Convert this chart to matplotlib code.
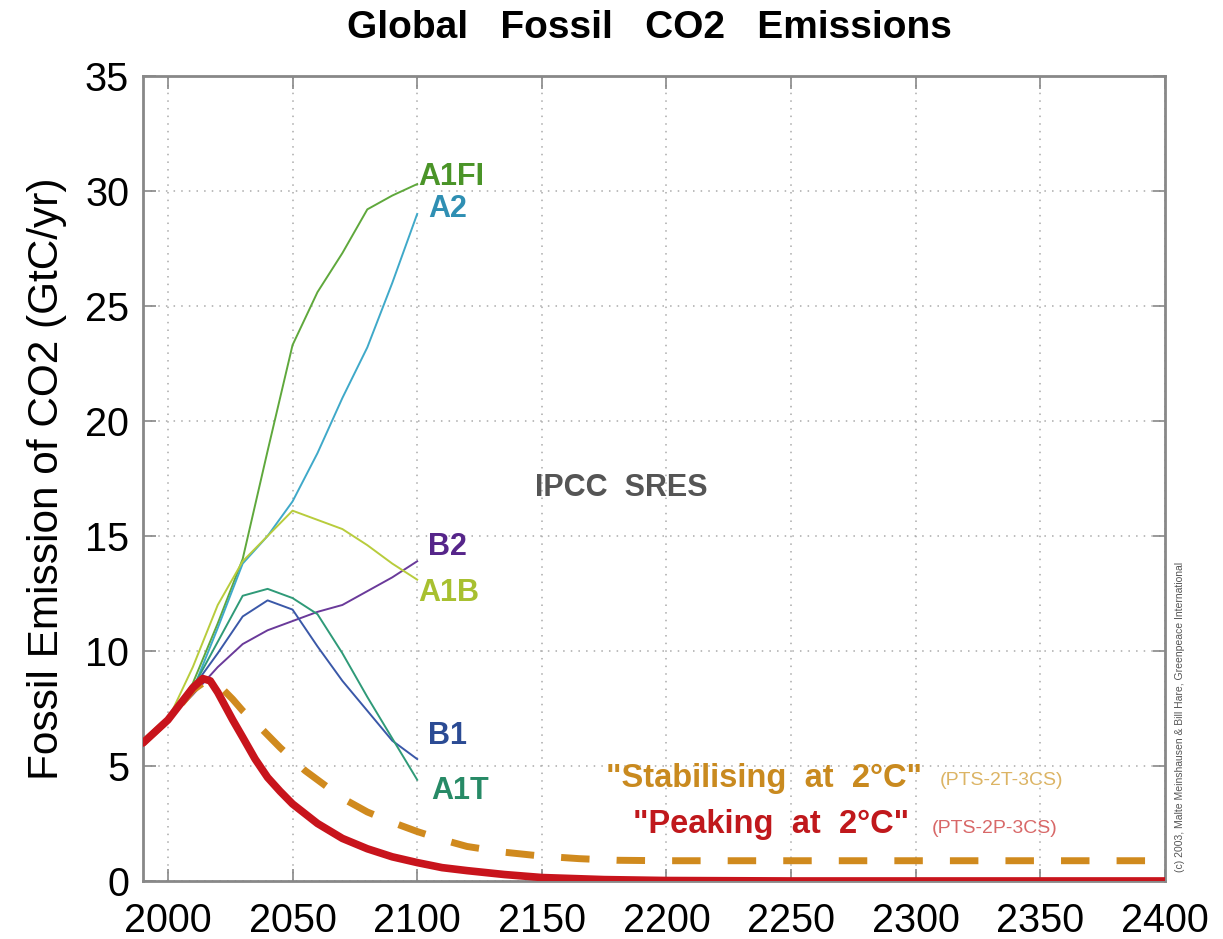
import matplotlib
matplotlib.use("Agg")
import matplotlib.pyplot as plt
import numpy as np

plt.rcParams["font.family"] = ["Liberation Sans", "DejaVu Sans"]

# SRES marker scenarios, fossil CO2 (GtC/yr)
sres_years = [1990, 2000, 2010, 2020, 2030, 2040, 2050, 2060, 2070, 2080, 2090, 2100]
a1fi = [6.0, 7.0, 8.6, 11.2, 14.0, 18.7, 23.3, 25.6, 27.3, 29.2, 29.8, 30.3]
a2 = [6.0, 7.0, 8.3, 11.0, 13.8, 15.0, 16.5, 18.6, 21.0, 23.2, 26.0, 29.0]
a1b = [6.0, 7.0, 9.3, 12.0, 13.9, 15.0, 16.1, 15.7, 15.3, 14.6, 13.8, 13.1]
b2 = [6.0, 7.0, 8.1, 9.3, 10.3, 10.9, 11.3, 11.7, 12.0, 12.6, 13.2, 13.9]
a1t = [6.0, 7.0, 8.4, 10.4, 12.4, 12.7, 12.3, 11.6, 9.9, 8.0, 6.2, 4.4]
b1 = [6.0, 7.0, 8.4, 9.9, 11.5, 12.2, 11.8, 10.2, 8.7, 7.4, 6.1, 5.3]

# 2 degree pathways
stab_years = [1990, 2000, 2010, 2016, 2021, 2026, 2030, 2035, 2040, 2045, 2050,
              2055, 2060, 2070, 2080, 2090, 2100, 2110, 2120, 2135, 2150, 2165,
              2180, 2200, 2300, 2400]
stab_vals = [6.0, 7.0, 8.3, 8.75, 8.45, 7.9, 7.4, 6.9, 6.35, 5.8, 5.3,
             4.8, 4.4, 3.6, 3.0, 2.55, 2.15, 1.8, 1.5, 1.25, 1.08, 0.97,
             0.9, 0.88, 0.88, 0.88]
peak_years = [1990, 2000, 2010, 2014, 2017, 2020, 2023, 2026, 2030, 2035, 2040,
              2045, 2050, 2060, 2070, 2080, 2090, 2100, 2110, 2120, 2135, 2150,
              2175, 2200, 2250, 2300, 2400]
peak_vals = [6.0, 7.0, 8.4, 8.8, 8.7, 8.2, 7.6, 7.0, 6.25, 5.3, 4.5,
             3.9, 3.35, 2.5, 1.85, 1.4, 1.05, 0.8, 0.58, 0.45, 0.28, 0.15,
             0.06, 0.02, 0.0, 0.0, 0.0]

x_ticks = [2000, 2050, 2100, 2150, 2200, 2250, 2300, 2350, 2400]
y_ticks = [0, 5, 10, 15, 20, 25, 30, 35]

scenarios = [
    ("A1FI", sres_years, a1fi, "#5fa83c", "#4a9428", (2100.5, 30.6)),
    ("A2", sres_years, a2, "#3fa9c9", "#2f8fb3", (2104.5, 29.2)),
    ("B2", sres_years, b2, "#6a3a9a", "#56258a", (2104.5, 14.5)),
    ("A1B", sres_years, a1b, "#b8cc3c", "#a8c030", (2100.5, 12.5)),
    ("B1", sres_years, b1, "#3a58a8", "#2b4b94", (2104.5, 6.3)),
    ("A1T", sres_years, a1t, "#2f9a78", "#278a66", (2105.5, 3.9)),
]

fig = plt.figure(figsize=(12.23, 9.39), dpi=100)
ax = fig.add_axes([0.1169, 0.0618, 0.8357, 0.8573])

for name, yrs, vals, lc, tc, (tx, ty) in scenarios:
    ax.plot(yrs, vals, color=lc, lw=1.4, zorder=3)
    ax.text(tx, ty, name, color=tc, fontsize=22, fontweight="bold",
            ha="left", va="center")

ax.plot(stab_years, stab_vals, color="#d08a1e", lw=5, dashes=(4.1, 3.9),
        zorder=4)
ax.plot(peak_years, peak_vals, color="#c8141c", lw=5.5, zorder=5,
        solid_capstyle="round", solid_joinstyle="round")

ax.text(2182, 17.1, "IPCC  SRES", color="#555555", fontsize=22,
        fontweight="bold", ha="center", va="center")
ax.text(2302.5, 4.45, '"Stabilising  at  2\u00b0C"', color="#c98a1f",
        fontsize=23.5, fontweight="bold", ha="right", va="center")
ax.text(2309.5, 4.35, "(PTS-2T-3CS)", color="#dcb464", fontsize=14,
        ha="left", va="center")
ax.text(2297.5, 2.45, '"Peaking  at  2\u00b0C"', color="#c0181c",
        fontsize=23.5, fontweight="bold", ha="right", va="center")
ax.text(2306.5, 2.3, "(PTS-2P-3CS)", color="#d86868", fontsize=14,
        ha="left", va="center")

ax.set_xlim(1990, 2400)
ax.set_ylim(0, 35)
ax.set_xticks(x_ticks)
ax.set_yticks(y_ticks)
ax.tick_params(direction="in", length=9, width=1.2, color="#888888",
               labelsize=28.5, top=True, right=True)
ax.tick_params(axis="y", pad=10)
ax.tick_params(axis="x", pad=15)
for sp in ax.spines.values():
    sp.set_color("#888888")
    sp.set_linewidth(2)
ax.grid(True, linestyle=(0, (1, 4)), color="#aaaaaa", lw=1.1)
ax.set_axisbelow(True)

ax.set_ylabel("Fossil Emission of CO2 (GtC/yr)", fontsize=30.5, labelpad=13)
fig.text(0.5307, 0.9595, "Global   Fossil   CO2   Emissions", fontsize=28,
         fontweight="bold", ha="center", va="baseline")
fig.text(0.965, 0.236, "(c) 2003, Malte Meinshausen & Bill Hare, Greenpeace International",
         fontsize=7.5, color="#555555", rotation=90, ha="center", va="center")

fig.savefig("out.png", dpi=100)
